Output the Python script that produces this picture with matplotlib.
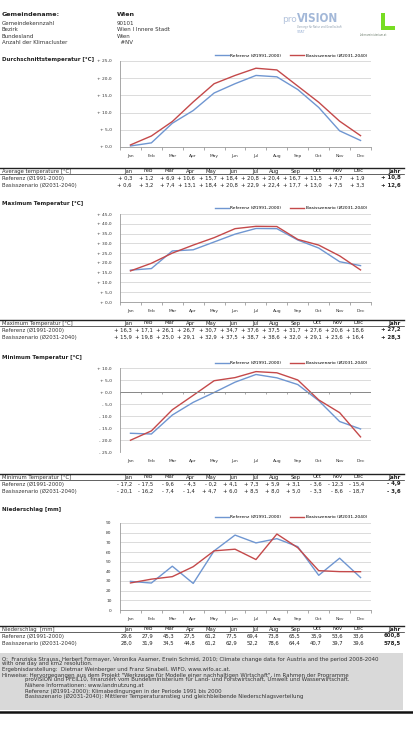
import numpy as np
import matplotlib
matplotlib.use('Agg')
import matplotlib.pyplot as plt
from matplotlib.lines import Line2D
from matplotlib.patches import Rectangle
from matplotlib.ticker import FuncFormatter

months = ['Jan', 'Feb', 'Mar', 'Apr', 'May', 'Jun', 'Jul', 'Aug', 'Sep', 'Oct', 'Nov', 'Dec']
lbl_ref = 'Referenz (Ø1991-2000)'
lbl_bas = 'Basisszenario (Ø2031-2040)'

ref_avg = [0.3, 1.2, 6.9, 10.6, 15.7, 18.4, 20.8, 20.4, 16.7, 11.5, 4.7, 1.9]
bas_avg = [0.6, 3.2, 7.4, 13.1, 18.4, 20.8, 22.9, 22.4, 17.7, 13.0, 7.5, 3.3]
jahr_avg = [10.8, 12.6]

ref_max = [16.3, 17.1, 26.1, 26.7, 30.7, 34.7, 37.6, 37.5, 31.7, 27.6, 20.6, 18.6]
bas_max = [15.9, 19.8, 25.0, 29.1, 32.9, 37.5, 38.7, 38.6, 32.0, 29.1, 23.6, 16.4]
jahr_max = [27.2, 28.3]

ref_min = [-17.2, -17.5, -9.6, -4.3, -0.2, 4.1, 7.3, 5.9, 3.1, -3.6, -12.3, -15.4]
bas_min = [-20.1, -16.2, -7.4, -1.4, 4.7, 6.0, 8.5, 8.0, 5.0, -3.3, -8.6, -18.7]
jahr_min = [-4.9, -3.6]

ref_ns = [29.6, 27.9, 45.3, 27.5, 61.2, 77.5, 69.4, 73.8, 65.5, 35.9, 53.6, 33.6]
bas_ns = [28.0, 31.9, 34.5, 44.8, 61.2, 62.9, 52.2, 78.6, 64.4, 40.7, 39.7, 39.6]
jahr_ns = [600.8, 578.5]

info_keys = ['Gemeindekennzahl', 'Bezirk', 'Bundesland', 'Anzahl der Klimacluster']
info_vals = ['90101', 'Wien I Innere Stadt', 'Wien', '  #NV']

footer = [
    ('Q:  Franziska Strauss, Herbert Formayer, Veronika Asamer, Erwin Schmid, 2010; Climate change data for Austria and the period 2008-2040', 2),
    ('with one day and km2 resolution.', 2),
    ('Ergebnisdarstellung:  Dietmar Weinberger und Franz Sinabell, WIFO, www.wifo.ac.at.', 2),
    ('Hinweise: Hervorgegangen aus dem Projekt "Werkzeuge für Modelle einer nachhaltigen Wirtschaft", im Rahmen der Programme', 2),
    ('proVISION und PFEIL10, finanziert vom Bundesministerium für Land- und Forstwirtschaft, Umwelt und Wasserwirtschaft.', 25),
    ('Nähere Informationen: www.landnutzung.at', 25),
    ('Referenz (Ø1991-2000): Klimabedingungen in der Periode 1991 bis 2000', 25),
    ('Basisszenario (Ø2031-2040): Mittlerer Temperaturanstieg und gleichbleibende Niederschlagsverteilung', 25),
]

BLUE = '#6f96d1'
RED = '#c4494a'
W, H = 414, 731

plt.rcParams['font.family'] = 'DejaVu Sans'
fig = plt.figure(figsize=(W / 100, H / 100), dpi=100)


def px(x):
    return x / W


def py(y):
    return 1 - y / H


def signed(v):
    s = '+' if v >= 0 else '-'
    return f'{s} {abs(v):.1f}'.replace('.', ',')


def plain(v):
    return f'{v:.1f}'.replace('.', ',')


def hline(y, x0=0, x1=404, lw=0.5, color='#222222'):
    fig.add_artist(Line2D([px(x0), px(x1)], [py(y), py(y)], transform=fig.transFigure,
                          lw=lw, color=color))


# header block
fig.text(px(2), py(15), 'Gemeindename:', fontsize=4.6, fontweight='bold', va='center', color='#222')
fig.text(px(117), py(15), 'Wien', fontsize=4.6, fontweight='bold', va='center', color='#222')
for i, (k, v) in enumerate(zip(info_keys, info_vals)):
    fig.text(px(2), py(23.5 + i * 6.3), k, fontsize=4.0, va='center', color='#333')
    fig.text(px(117), py(23.5 + i * 6.3), v, fontsize=4.0, va='center', color='#333')

# logos
fig.text(px(282), py(19.5), 'pro', fontsize=6.5, color='#b3c3dc', va='center')
fig.text(px(297), py(18.5), 'VISION', fontsize=8.5, color='#a3b8d8', va='center',
         fontstretch='condensed', fontweight='bold')
fig.text(px(297), py(27), 'Vorsorge für Natur und Gesellschaft', fontsize=1.8, color='#8899aa', va='center')
fig.text(px(297), py(32), 'STAT', fontsize=2.6, color='#a3b8d8', va='center')
fig.add_artist(Rectangle((px(381), py(30)), px(4), 17 / H, transform=fig.transFigure,
                         color='#77dd22', lw=0))
fig.add_artist(Rectangle((px(381), py(30)), px(14), 4 / H, transform=fig.transFigure,
                         color='#77dd22', lw=0))
fig.text(px(360), py(35), 'Lebensministerium.at', fontsize=1.8, color='#667766', va='center')


def chart(top, bottom, ref, bas, ylim, step, fmt, title, title_y, leg_y, zero_axis=False):
    ax = fig.add_axes([px(120), py(bottom), px(371) - px(120), (bottom - top) / H])
    x = np.arange(12)
    l1, = ax.plot(x, ref, color=BLUE, lw=1.0, label=lbl_ref)
    l2, = ax.plot(x, bas, color=RED, lw=1.0, label=lbl_bas)
    ax.set_xlim(-0.5, 11.5)
    ax.set_ylim(*ylim)
    ax.set_yticks(np.arange(ylim[0], ylim[1] + step / 2, step))
    ax.yaxis.set_major_formatter(FuncFormatter(fmt))
    ax.set_xticks(x)
    ax.set_xticklabels(months)
    ax.set_xticks(np.arange(-0.5, 12, 1), minor=True)
    ax.tick_params(axis='y', length=0, labelsize=3.2, pad=6, labelcolor='#333')
    ax.tick_params(axis='x', which='major', length=0, labelsize=3.2, pad=5, labelcolor='#333')
    ax.tick_params(axis='x', which='minor', length=2, width=0.5, color='#888')
    ax.yaxis.grid(True, color='#d6d6d6', lw=0.6)
    ax.set_axisbelow(True)
    for s in ['top', 'right']:
        ax.spines[s].set_visible(False)
    ax.spines['left'].set_color('#999')
    ax.spines['left'].set_linewidth(0.6)
    ax.spines['bottom'].set_color('#999')
    ax.spines['bottom'].set_linewidth(0.6)
    if zero_axis:
        ax.spines['bottom'].set_visible(False)
        ax.tick_params(axis='x', which='minor', length=0)
        ax.axhline(0, color='#888', lw=0.7)
        ax.vlines(np.arange(-0.5, 12, 1), -0.9, 0, color='#888', lw=0.5)
    fig.text(px(2), py(title_y), title, fontsize=4.0, fontweight='bold', va='center', color='#222')
    fig.legend(handles=[l1, l2], loc='center', bbox_to_anchor=(px(291), py(leg_y)),
               ncol=2, frameon=False, fontsize=3.2, handlelength=3.2, columnspacing=2.0,
               handletextpad=0.3, borderpad=0)
    return ax


def table(header_y, label, ref, bas, jahr, vfmt):
    hline(header_y - 3.3, lw=1.0)
    hline(header_y + 3.0, lw=0.5)
    rows = [(header_y, label, months, 'Jahr'),
            (header_y + 7, lbl_ref, [vfmt(v) for v in ref], vfmt(jahr[0])),
            (header_y + 14, lbl_bas, [vfmt(v) for v in bas], vfmt(jahr[1]))]
    for y, lab, vals, jv in rows:
        fig.text(px(2), py(y), lab, fontsize=3.8, va='center', color='#333')
        for i, v in enumerate(vals):
            fig.text(px(132 + i * 21.1), py(y), v, fontsize=3.8, va='center', ha='right', color='#222')
        fig.text(px(401), py(y), jv, fontsize=3.9, va='center', ha='right', fontweight='bold', color='#222')


chart(61, 147, ref_avg, bas_avg, (0, 25), 5, lambda v, p: signed(v),
      'Durchschnittstemperatur [°C]', 59, 56)
table(171, 'Average temperature [°C]', ref_avg, bas_avg, jahr_avg, signed)

chart(214, 302, ref_max, bas_max, (0, 45), 5, lambda v, p: signed(v),
      'Maximum Temperatur [°C]', 204, 208)
table(323, 'Maximum Temperatur [°C]', ref_max, bas_max, jahr_max, signed)

chart(368, 452, ref_min, bas_min, (-25, 10), 5, lambda v, p: signed(v),
      'Minimum Temperatur [°C]', 357, 363, zero_axis=True)
table(477, 'Minimum Temperatur [°C]', ref_min, bas_min, jahr_min, signed)

chart(523, 610, ref_ns, bas_ns, (0, 90), 10, lambda v, p: f'{v:.0f}',
      'Niederschlag [mm]', 509, 517)
table(629, 'Niederschlag  [mm]', ref_ns, bas_ns, jahr_ns, plain)

# footer box
fig.add_artist(Rectangle((0, py(710)), px(403), (710 - 653) / H, transform=fig.transFigure,
                         color='#d9d9d9', lw=0))
ys = [659, 664, 669.5, 675, 680, 685, 691, 696]
for (txt, x0), y in zip(footer, ys):
    fig.text(px(x0), py(y), txt, fontsize=3.9, va='center', color='#333')
hline(712, 0, 414, lw=1.8, color='#111')

fig.savefig('out.png', dpi=100)
